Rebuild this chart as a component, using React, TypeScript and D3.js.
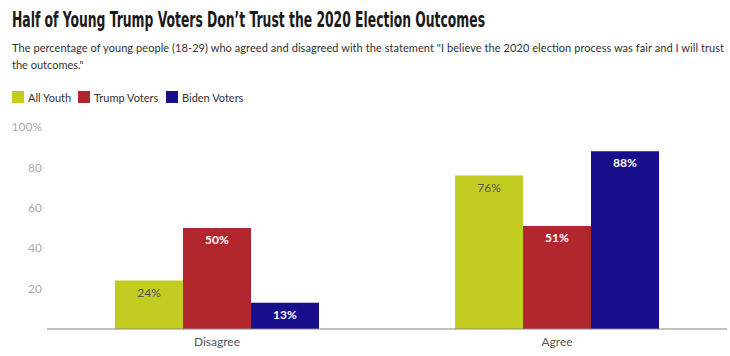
import React from "react";
import * as d3 from "d3";

const categories = ["Disagree", "Agree"];
const seriesNames = ["All Youth", "Trump Voters", "Biden Voters"];
const allYouth = [24, 76];
const trumpVoters = [50, 51];
const bidenVoters = [13, 88];
const yTicks = [20, 40, 60, 80, 100];
const colors = ["#c3cc20", "#b2272e", "#180d8b"];
const labelColors = ["#555555", "#ffffff", "#ffffff"];
const labelWeights = ["normal", "bold", "bold"];

const W = 730;
const H = 356;
const margin = { left: 47, right: 3, top: 127, bottom: 27 };

export default function App() {
  const series = [allYouth, trumpVoters, bidenVoters];
  const x0 = d3.scaleBand().domain(categories).range([margin.left, W - margin.right]).padding(0);
  const x1 = d3.scaleBand().domain(seriesNames).range([0, x0.bandwidth()]).paddingInner(0).paddingOuter(1.0);
  const y = d3.scaleLinear().domain([0, 100]).range([H - margin.bottom, margin.top]);
  const font = "Lato, 'Open Sans', sans-serif";

  return (
    <svg width={W} height={H} style={{ position: "absolute", left: 0, top: 0, background: "#fff" }} fontFamily={font}>
      <text transform="translate(12,27) scale(1,1.55)" x={0} y={0} fontFamily="'DejaVu Sans Condensed', sans-serif" fontWeight="bold" fontSize={13.8} fill="#1a1a1a" textLength={473} lengthAdjust="spacingAndGlyphs">
        Half of Young Trump Voters Don’t Trust the 2020 Election Outcomes
      </text>
      <text x={12} y={52} fontSize={11} fill="#333" textLength={712} lengthAdjust="spacing">
        The percentage of young people (18-29) who agreed and disagreed with the statement "I believe the 2020 election process was fair and I will trust
      </text>
      <text x={12} y={69} fontSize={11} fill="#333">
        the outcomes."
      </text>
      {seriesNames.map((s, i) => {
        const lx = [12, 78, 166][i];
        return (
          <g key={s}>
            <rect x={lx} y={91} width={12} height={12} fill={colors[i]} />
            <text x={lx + 16} y={101.5} fontSize={11} fill="#333">{s}</text>
          </g>
        );
      })}
      {yTicks.map((t) => (
        <text key={t} x={42} y={y(t)} dy="0.35em" textAnchor="end" fontSize={12} fill="#aaa">
          {t === 100 ? "100%" : t}
        </text>
      ))}
      {categories.map((c, ci) => (
        <g key={c} transform={`translate(${x0(c)},0)`}>
          {seriesNames.map((s, si) => {
            const v = series[si][ci];
            const bx = x1(s)!;
            return (
              <g key={s}>
                <rect x={bx} y={y(v)} width={x1.bandwidth()} height={y(0) - y(v)} fill={colors[si]} />
                <text x={bx + x1.bandwidth() / 2} y={y(v) + 12} dy="0.35em" textAnchor="middle" fontSize={12} fontWeight={labelWeights[si]} fill={labelColors[si]}>
                  {v}%
                </text>
              </g>
            );
          })}
          <text x={x0.bandwidth() / 2} y={y(0) + 13} dy="0.35em" textAnchor="middle" fontSize={12} fill="#555">
            {c}
          </text>
        </g>
      ))}
      <line x1={margin.left} x2={W - margin.right} y1={y(0)} y2={y(0)} stroke="#888" strokeWidth={1} />
    </svg>
  );
}
